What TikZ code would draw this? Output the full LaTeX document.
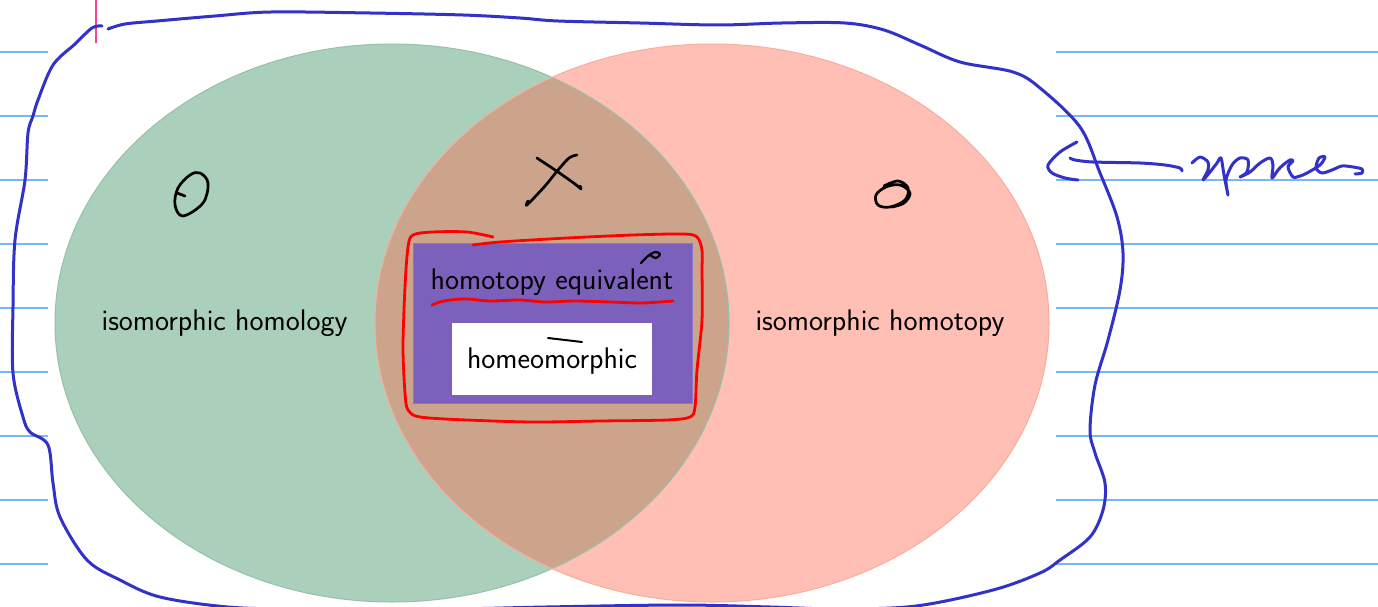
\documentclass[tikz,border=0pt]{standalone}
\usepackage{fontspec}
\begin{document}
\begin{tikzpicture}[x=1pt,y=-1pt,
  rule/.style={draw=ruleblue,line width=2.2pt},
  ink/.style={draw=inkblue,line width=3pt,line cap=round,line join=round},
  redink/.style={draw=red,line width=2.8pt,line cap=round,line join=round},
  blackink/.style={draw=black,line width=2.7pt,line cap=round,line join=round},
  lbl/.style={font=\sffamily\fontsize{29.8}{35}\selectfont,inner sep=0pt,text=black}]
\definecolor{ruleblue}{RGB}{122,184,245}
\definecolor{inkblue}{RGB}{50,50,200}
\definecolor{gfill}{RGB}{170,208,187}
\definecolor{gline}{RGB}{150,192,170}
\definecolor{pfill}{RGB}{255,191,180}
\definecolor{pline}{RGB}{248,172,158}
\definecolor{ofill}{RGB}{204,164,139}
\definecolor{purp}{RGB}{123,97,188}
\definecolor{purpline}{RGB}{140,118,205}
\definecolor{pinkline}{RGB}{240,70,150}
\useasboundingbox (0,0) rectangle (1378,607);
\fill[white] (0,0) rectangle (1378,607);
% ruled lines
\foreach \yy in {52,116,180,244,308,372,436,500,564}{
  \draw[rule] (0,\yy) -- (48,\yy);
  \draw[rule] (1056,\yy) -- (1378,\yy);
}
\draw[pinkline,line width=1.6pt] (96,0) -- (96,43);
% ellipses
\fill[gfill] (392,323) ellipse [x radius=337pt, y radius=279pt];
\fill[pfill] (712,323) ellipse [x radius=337pt, y radius=279pt];
\begin{scope}
  \clip (392,323) ellipse [x radius=337pt, y radius=279pt];
  \fill[ofill] (712,323) ellipse [x radius=337pt, y radius=279pt];
\end{scope}
\draw[gline,line width=1pt] (392,323) ellipse [x radius=337pt, y radius=279pt];
\draw[pline,line width=1pt] (712,323) ellipse [x radius=337pt, y radius=279pt];
% boxes
\node[draw=purpline,fill=purp,line width=0.8pt,minimum width=279pt,minimum height=160pt,inner sep=0pt] (he) at (552.5,323) {};
\node[fill=white,minimum width=200pt,minimum height=72pt,inner sep=0pt] (hm) at (552,359) {};
% labels
\node[lbl] (t1) at (552,282) {homotopy equivalent};
\node[lbl] (t2) at (552,361) {homeomorphic};
\node[lbl] (t3) at (224.5,323) {isomorphic homology};
\node[lbl] (t4) at (880,323) {isomorphic homotopy};
% red ink
\draw[redink] plot[smooth,tension=0.5] coordinates {(493,237) (467,232) (433,232) (413,235) (408,247) (405,287) (403,347) (405,393) (408,410) (420,417) (467,420) (533,422) (600,421) (667,420) (690,417) (695,407) (697,370) (702,320) (702,270) (702,250) (697,237) (683,234) (633,235) (567,238) (500,242) (473,245)};
\draw[redink] plot[smooth,tension=0.5] coordinates {(432,305) (440,302) (450,300) (467,299) (490,301) (520,300) (545,302) (575,301) (610,302) (640,303) (660,302) (673,301)};
% black ink
\draw[blackink] plot[smooth cycle,tension=0.6] coordinates {(200,173) (208,183) (203,203) (183,216) (175,205) (178,188) (190,175)};
\draw[blackink] (177,193) -- (185,196);
\draw[blackink] plot[smooth,tension=0.5] coordinates {(537,158) (558,172) (575,184) (581,189) (580,186)};
\draw[blackink] plot[smooth,tension=0.5] coordinates {(577,155) (569,158) (558,170) (545,186) (527,205) (528,201)};
\draw[blackink] plot[smooth,tension=0.6] coordinates {(884,186) (898,181) (908,188) (905,200) (890,207) (878,205) (876,195) (886,187) (900,185) (910,193) (904,203) (892,207)};
\draw[blackink,line width=2.2pt] plot[smooth,tension=0.6] coordinates {(641,263) (648,256) (655,252) (660,254) (656,258) (650,255)};
\draw[blackink,line width=2pt] plot[smooth,tension=0.6] coordinates {(548,338) (565,340) (582,342)};
% blue ink boundary
\draw[ink] plot[smooth,tension=0.55] coordinates {(108,29) (125,24) (157,21) (215,16) (271,12) (370,13) (463,15) (520,18) (558,21) (640,23) (718,25) (782,23) (845,23) (884,30) (920,45) (960,62) (1013,72) (1040,88) (1080,127) (1100,173) (1117,217) (1123,253) (1120,290) (1108,340) (1095,385) (1090,430) (1095,453) (1105,483) (1103,510) (1090,537) (1060,560) (1040,573) (993,590) (916,606) (840,609) (770,607) (680,605) (546,607) (450,609) (300,609) (228,607) (160,597) (120,580) (87,560) (60,517) (53,483) (48,445) (30,432) (23,417) (13,373) (13,307) (15,240) (25,180) (28,133) (33,116) (38,100) (53,65) (75,44) (92,28) (102,26)};
% arrow and "spaces"
\draw[ink] plot[smooth,tension=0.5] coordinates {(1077,142) (1060,152) (1048,165) (1052,173) (1065,178) (1078,180)};
\draw[ink] plot[smooth,tension=0.5] coordinates {(1070,158) (1075,160) (1093,162) (1140,163) (1165,165) (1180,168) (1182,171)};
\draw[ink] plot[smooth,tension=0.5] coordinates {(1192,163) (1200,157) (1208,162) (1208,170) (1203,180) (1210,172) (1217,163) (1221,158) (1224,175) (1228,195) (1226,180) (1232,165) (1240,158) (1248,160) (1247,172) (1240,177) (1250,172) (1260,163) (1270,158) (1273,165) (1272,178) (1278,170) (1283,165) (1290,160) (1293,161) (1288,167) (1293,177) (1300,176) (1307,173) (1320,165) (1325,157) (1319,158) (1316,168) (1322,173) (1332,170) (1342,166) (1353,167) (1362,169) (1362,173) (1355,174)};
\end{tikzpicture}
\end{document}
